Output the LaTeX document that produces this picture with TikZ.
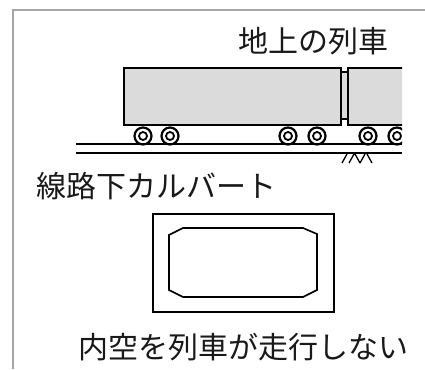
\documentclass[tikz,border=0pt]{standalone}
\usepackage{fontspec}
\newfontfamily\jp{Noto Sans CJK JP}
\usetikzlibrary{positioning}
\tikzset{x=1pt, y=-1pt, % one unit per pixel, y pointing down
frame/.style={ % Grey sheet edge
draw=black!35,
line width=1.4pt},
car/.style={ % Body of each wagon
draw,
line width=2pt,
fill=black!14},
coupler/.style={
draw,
line width=1.5pt,
fill=black!14},
wheel/.style={ % Rims of the wheels
draw,
line width=2.2pt,
fill=white},
rail/.style={
draw,
line width=1.8pt},
culvert/.style={ % Box culvert under the track
draw,
line width=1.6pt},
label/.style={ % Japanese captions
font=\jp\fontsize{30}{32}\selectfont,
text=black!90,
inner sep=0pt}}

\begin{document}
\begin{tikzpicture}
  \useasboundingbox (0,0) rectangle (425,369);
  \draw[frame] (13,369) -- (13,10) -- (425,10);

  % train on the track, cut off at the right
  \begin{scope}
    \clip (0,0) rectangle (402,369);
    \draw[car]     (124,68) rectangle (341,125);
    \draw[coupler] (341,72) rectangle (348,119);
    \draw[car]     (348,68) rectangle (412,125);
    \foreach \x in {143,170,288,317,368,397} {
      \draw[wheel] (\x,136) circle (8.5);
      \draw[wheel,line width=1.8pt] (\x,136) circle (4);
    }
    \draw[rail] (76,144) -- (402,144);
    \draw[rail] (76,153) -- (402,153);
  \end{scope}
  % ground hatching
  \draw[line width=1.3pt] (342,163) -- (347,154) (349,163) -- (354,154)
       (355,154) -- (360,163) (360,163) -- (365,154) (367,154) -- (372,163);

  % culvert section
  \draw[culvert] (153,214) rectangle (334,312);
  \draw[culvert] (183,228) -- (303,228) -- (317,234) -- (317,290) -- (303,297)
                 -- (183,297) -- (169,290) -- (169,235) -- cycle;

  \node[label] (train)   at (313,41)  {地上の列車};
  \node[label,anchor=west] (culv) at (36,186) {線路下カルバート};
  \node[label] (nopass)  at (243,347) {内空を列車が走行しない};
\end{tikzpicture}
\end{document}
